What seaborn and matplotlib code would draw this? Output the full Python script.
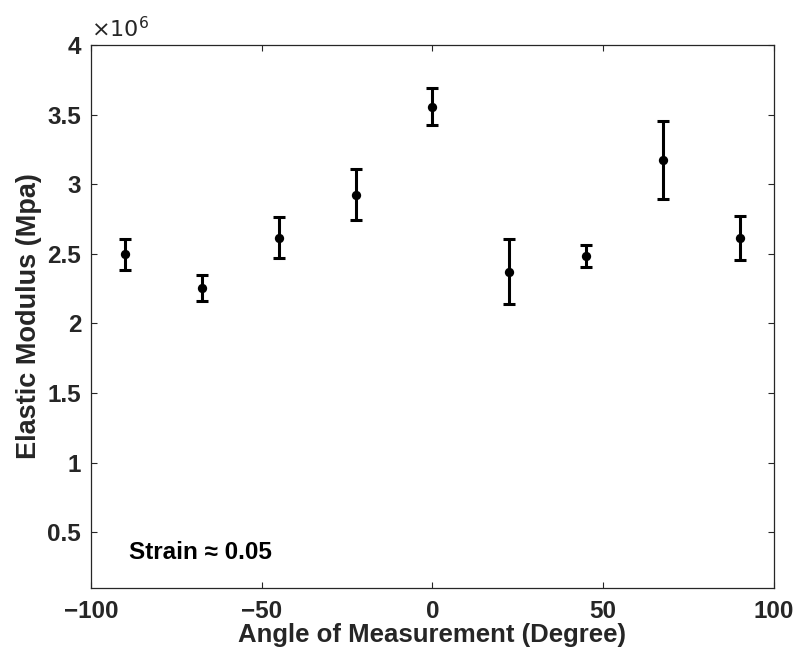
import matplotlib
matplotlib.use("Agg")
import matplotlib.pyplot as plt
import matplotlib.ticker as mticker
import numpy as np
import pandas as pd
import seaborn as sns

# angle of measurement (degree) and elastic modulus (x1e6 MPa) with error half-widths
angles = [-90, -67.5, -45, -22.5, 0, 22.5, 45, 67.5, 90]
modulus = [2.496, 2.255, 2.615, 2.926, 3.556, 2.372, 2.484, 3.174, 2.613]
modulus_err = [0.113, 0.092, 0.147, 0.183, 0.133, 0.232, 0.079, 0.280, 0.158]
SCALE = 1e6

df = pd.DataFrame({'angle': angles,
                   'modulus': np.array(modulus) * SCALE,
                   'err': np.array(modulus_err) * SCALE})

sns.set_style('ticks')
plt.rcParams['font.family'] = ['Liberation Sans', 'DejaVu Sans']
TXT = '#262626'

fig = plt.figure(figsize=(7.97, 6.54), dpi=100)
ax = fig.add_axes([0.114, 0.101, 0.857, 0.830])

ax.errorbar(df['angle'], df['modulus'], yerr=df['err'], fmt='none',
            ecolor='black', elinewidth=2.2, capsize=4.5, capthick=2.2, zorder=2)
sns.scatterplot(data=df, x='angle', y='modulus', ax=ax, color='black',
                s=45, edgecolor='black', linewidth=0, zorder=3)

ax.set_xlim(-100, 100)
ax.set_ylim(0.1 * SCALE, 4 * SCALE)
ax.set_xticks([-100, -50, 0, 50, 100])
ax.set_yticks(np.arange(0.5, 4.01, 0.5) * SCALE)
ax.xaxis.set_major_formatter(mticker.FuncFormatter(lambda v, p: f'{v:g}'.replace('-', '\u2212')))
ax.yaxis.set_major_formatter(mticker.FuncFormatter(lambda v, p: f'{v / SCALE:g}'))

ax.tick_params(direction='in', top=True, right=True, length=4, width=0.8,
               labelsize=17.5, colors=TXT)
ax.tick_params(axis='x', pad=9)
ax.tick_params(axis='y', pad=7)
for lab in ax.get_xticklabels() + ax.get_yticklabels():
    lab.set_fontweight('bold')
for sp in ax.spines.values():
    sp.set_visible(True)
    sp.set_color(TXT)
    sp.set_linewidth(0.9)

ax.set_xlabel('Angle of Measurement (Degree)', fontsize=18.5, fontweight='bold', color=TXT, labelpad=0)
ax.set_ylabel('Elastic Modulus (Mpa)', fontsize=19.5, fontweight='bold', color=TXT, labelpad=4)

ax.text(0.0, 1.006, r'$\times10^{6}$', transform=ax.transAxes, fontsize=16,
        color=TXT, ha='left', va='bottom')
ax.text(0.056, 0.065, 'Strain \u2248 0.05', transform=ax.transAxes, fontsize=17.5,
        fontweight='bold', color='black', ha='left', va='center')

fig.savefig('out.png', dpi=100)
